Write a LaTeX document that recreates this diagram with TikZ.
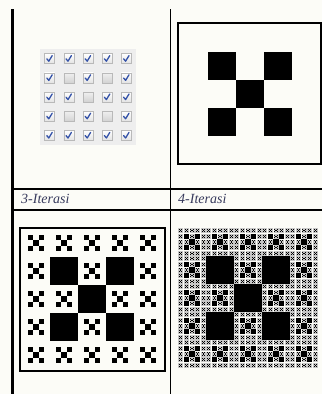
\documentclass[tikz,border=0pt]{standalone}
\usepackage{fontspec}
\setmainfont{Liberation Serif}
\usetikzlibrary{positioning}

\definecolor{paper}{RGB}{252,252,247}
\definecolor{capblue}{RGB}{55,58,92}
\definecolor{tickblue}{RGB}{52,82,168}

% five black blocks of one X, square at (#1,#2) with side #3
\newcommand{\xblocks}[3]{%
  \foreach \bp/\bq in {1/1,3/1,2/2,1/3,3/3}
    {\fill ({#1+\bp*(#3)/5},{#2+\bq*(#3)/5}) rectangle ++({(#3)/5},{(#3)/5});}}
% the twenty cells that are not filled
\def\restcells{0/0,1/0,2/0,3/0,4/0,0/1,2/1,4/1,0/2,1/2,3/2,4/2,0/3,2/3,4/3,0/4,1/4,2/4,3/4,4/4}

\begin{document}
\begin{tikzpicture}[
    x=1pt, y=-1pt,
    rule/.style={line width=2pt, black},
    frame/.style={draw, line width=2pt},
    cbox/.style={draw=gray!55, line width=0.6pt, top color=white, bottom color=gray!22},
    cboxoff/.style={draw=gray!55, line width=0.6pt, top color=gray!12, bottom color=gray!35},
    tick/.style={draw=tickblue, line width=1.3pt, line cap=round, line join=round},
    caption/.style={anchor=base west, inner sep=0pt, text=capblue, font=\fontsize{14}{16}\selectfont\itshape}
]
    \useasboundingbox[fill=paper] (0,0) rectangle (322,394);

    % Table rules
    \draw[line width=2.5pt] (12.5,9) -- (12.5,394);
    \draw[line width=0.9pt] (170,9) -- (170,394);
    \draw[rule] (12,189) -- (322,189);
    \draw[rule] (12,210) -- (322,210);

    % Captions
    \node[caption] (cap3) at (21,203) {3-Iterasi};
    \node[caption] (cap4) at (178,203) {4-Iterasi};

    % 1-Iterasi: checkbox grid
    \fill[gray!13] (40,49) rectangle (136,145);
    \foreach \ci in {0,...,4} {
      \foreach \cj in {0,...,4} {
        \shade[cboxoff] ({44.6+19.2*\ci},{53.6+19.2*\cj}) rectangle ++(10,10);
      }
    }
    \foreach \ci/\cj in \restcells {
        \shade[cbox] ({44.6+19.2*\ci},{53.6+19.2*\cj}) rectangle ++(10,10);
        \draw[tick] ({46.8+19.2*\ci},{58.8+19.2*\cj}) -- ++(2,2.4) -- ++(3.4,-5.6);
    }

    % 2-Iterasi
    \draw[frame] (178,23) rectangle (320.5,164);
    \xblocks{180}{24}{140}

    % 3-Iterasi
    \draw[frame] (20,228) rectangle (165,371);
    \xblocks{22}{229}{140}
    \foreach \ci/\cj in \restcells {
      \xblocks{22+28*\ci}{229+28*\cj}{28}
    }

    % 4-Iterasi
    \xblocks{178}{228}{140}
    \foreach \ci/\cj in \restcells {
      \xblocks{178+28*\ci}{228+28*\cj}{28}
      \foreach \si/\sj in \restcells {
        \fill[gray!45] ({178+28*\ci+5.6*\si+0.3},{228+28*\cj+5.6*\sj+0.3}) rectangle ++(5,5);
        \xblocks{178+28*\ci+5.6*\si}{228+28*\cj+5.6*\sj}{5.6}
      }
    }
\end{tikzpicture}
\end{document}
